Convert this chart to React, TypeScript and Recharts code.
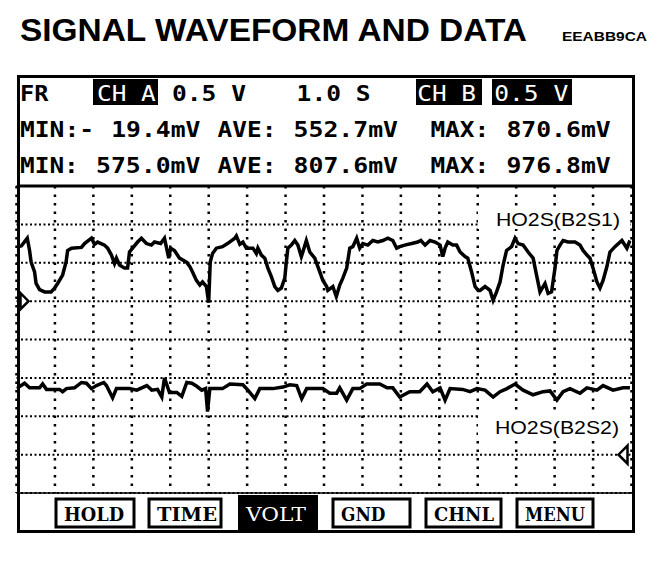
import React from 'react';
import { LineChart, Line, XAxis, YAxis, CartesianGrid, ReferenceDot } from 'recharts';

// Channel A trace: [time s, volts]
const chATrace: [number, number][] = [
  [0, .70], [.13, .72], [.28, .82], [.34, .66], [.38, .51], [.47, .38], [.51, .23], [.60, .15], [.73, .12], [.90, .12],
  [.99, .17], [1.07, .23], [1.20, .34], [1.29, .51], [1.33, .66], [1.43, .69], [1.69, .70], [1.77, .75], [1.95, .82], [2.03, .74],
  [2.11, .77], [2.29, .73], [2.37, .69], [2.47, .60], [2.55, .49], [2.60, .56], [2.68, .47], [2.81, .43], [2.89, .43], [2.94, .64],
  [3.02, .69], [3.15, .77], [3.25, .82], [3.38, .75], [3.51, .73], [3.59, .77], [3.75, .75], [3.85, .82], [3.96, .56], [4.01, .69],
  [4.11, .66], [4.24, .56], [4.42, .51], [4.51, .45], [4.58, .38], [4.68, .27], [4.77, .21], [4.84, .25], [4.94, .19], [5.00, -.02],
  [5.04, .51], [5.10, .62], [5.20, .69], [5.36, .71], [5.49, .75], [5.68, .82], [5.72, .85], [5.81, .74], [5.89, .77], [5.98, .69],
  [6.15, .69], [6.24, .62], [6.28, .69], [6.37, .60], [6.46, .56], [6.54, .43], [6.63, .32], [6.72, .19], [6.80, .14], [6.89, .17],
  [6.98, .30], [7.02, .51], [7.06, .69], [7.15, .73], [7.24, .79], [7.32, .73], [7.41, .58], [7.45, .64], [7.54, .79], [7.63, .64],
  [7.76, .56], [7.89, .38], [7.97, .27], [8.07, .19], [8.10, .14], [8.23, .19], [8.32, .06], [8.41, .21], [8.49, .30], [8.59, .43],
  [8.67, .69], [8.75, .71], [8.85, .82], [8.93, .69], [9.01, .75], [9.14, .73], [9.27, .79], [9.40, .77], [9.53, .79], [9.66, .82],
  [9.79, .79], [9.89, .69], [9.97, .71], [10.10, .73], [10.28, .75], [10.44, .77], [10.52, .79], [10.63, .73], [10.76, .79], [10.89, .77],
  [11.02, .73], [11.09, .58], [11.15, .69], [11.22, .77], [11.35, .73], [11.45, .73], [11.54, .64], [11.67, .58], [11.74, .56], [11.84, .38],
  [11.93, .19], [12.01, .14], [12.06, .14], [12.19, .19], [12.32, .14], [12.40, .01], [12.49, .12], [12.58, .25], [12.66, .47], [12.75, .66],
  [12.88, .71], [12.97, .82], [13.05, .75], [13.18, .73], [13.31, .64], [13.44, .56], [13.53, .34], [13.62, .12], [13.75, .23], [13.83, .10],
  [13.92, .12], [14.01, .43], [14.06, .66], [14.14, .73], [14.22, .79], [14.35, .77], [14.53, .77], [14.66, .73], [14.74, .66], [14.84, .60],
  [14.92, .56], [15.00, .43], [15.10, .25], [15.18, .17], [15.26, .27], [15.36, .45], [15.44, .64], [15.57, .71], [15.75, .79], [15.88, .69],
  [15.96, .79],
];

// Channel B trace: [time s, volts]
const chBTrace: [number, number][] = [
  [0, .86], [.21, .93], [.34, .87], [.60, .87], [.68, .92], [.78, .85], [1.12, .85], [1.20, .82], [1.30, .86], [1.51, .87],
  [1.69, .94], [1.82, .93], [1.95, .86], [2.08, .90], [2.27, .94], [2.34, .90], [2.50, .74], [2.60, .86], [2.94, .86], [3.13, .84],
  [3.39, .90], [3.52, .84], [3.67, .85], [3.78, .75], [3.85, 1.00], [3.98, .81], [4.17, .81], [4.30, .76], [4.43, .94], [4.56, .93],
  [4.69, .89], [4.82, .84], [4.92, .86], [4.97, .56], [5.03, .86], [5.36, .86], [5.55, .92], [5.89, .91], [6.02, .84], [6.20, .73],
  [6.33, .86], [6.67, .86], [6.93, .88], [7.11, .91], [7.29, .90], [7.42, .73], [7.55, .86], [7.97, .86], [8.15, .80], [8.33, .80],
  [8.41, .87], [8.59, .71], [8.75, .86], [8.93, .86], [9.11, .92], [9.45, .92], [9.64, .87], [9.79, .87], [9.97, .75], [10.23, .82],
  [10.49, .82], [10.68, .92], [10.83, .82], [11.02, .87], [11.15, .71], [11.28, .86], [11.61, .85], [11.80, .82], [11.98, .86], [12.19, .84],
  [12.40, .75], [12.58, .82], [12.76, .86], [12.97, .92], [13.18, .84], [13.44, .78], [13.70, .82], [13.88, .83], [14.06, .71], [14.22, .82],
  [14.40, .86], [14.66, .80], [14.84, .87], [15.10, .84], [15.26, .90], [15.52, .84], [15.78, .87], [15.96, .87],
];

const timeTicks = [1, 2, 3, 4, 5, 6, 7, 8, 9, 10, 11, 12, 13, 14, 15];
const chAVoltTicks = [-2, -1.5, -1, -0.5, 0, 0.5, 1];

const row2 = [
  { col: 0, text: 'MIN:-' }, { col: 6, text: '19.4mV' }, { col: 13, text: 'AVE:' },
  { col: 18, text: '552.7mV' }, { col: 27, text: 'MAX:' }, { col: 32, text: '870.6mV' },
];
const row3 = [
  { col: 0, text: 'MIN:' }, { col: 5, text: '575.0mV' }, { col: 13, text: 'AVE:' },
  { col: 18, text: '807.6mV' }, { col: 27, text: 'MAX:' }, { col: 32, text: '976.8mV' },
];
const buttons = [
  { label: 'HOLD', x: 56, w: 78, inv: false },
  { label: 'TIME', x: 149, w: 72, inv: false },
  { label: 'VOLT', x: 238, w: 80, inv: true },
  { label: 'GND', x: 333, w: 77, inv: false },
  { label: 'CHNL', x: 426, w: 75, inv: false },
  { label: 'MENU', x: 517, w: 76, inv: false },
];

const chAData = chATrace.map(([t, v]) => ({ t, v }));
const chBData = chBTrace.map(([t, v]) => ({ t, v }));

const PITCH = 15.2;
const COL0 = 20;
const MONO = '"DejaVu Sans Mono", monospace';

function Tok({ col, text, y, fill = '#000', bold = true, dx = 0 }: any) {
  return (
    <text x={COL0 + col * PITCH + dx} y={y} fontFamily={MONO} fontSize={21} fontWeight={bold ? 700 : 400}
      fill={fill} textLength={text.length * PITCH - 2} lengthAdjust="spacingAndGlyphs" style={{ whiteSpace: 'pre' }}>
      {text}
    </text>
  );
}

const RightTri = (p: any) => (
  <path d={`M${p.cx + 4},${p.cy - 8} L${p.cx + 12},${p.cy} L${p.cx + 4},${p.cy + 8} Z`} fill="#fff" stroke="#000" strokeWidth={2.5} />
);
const LeftTri = (p: any) => (
  <path d={`M${p.cx - 4},${p.cy - 9} L${p.cx - 13},${p.cy} L${p.cx - 4},${p.cy + 9} Z`} fill="#fff" stroke="#000" strokeWidth={2.5} />
);

export default function App() {
  return (
    <div style={{ position: 'absolute', left: 0, top: 0, width: 672, height: 562, background: '#fff' }}>
      <div style={{ position: 'absolute', left: 0, top: 0 }}>
        <LineChart width={672} height={562} margin={{ top: 186, right: 40.5, bottom: 69, left: 16.5 }}>
          <XAxis dataKey="t" type="number" domain={[0, 16]} ticks={timeTicks} hide allowDataOverflow />
          <YAxis yAxisId="a" type="number" domain={[-2.5, 1.5]} ticks={chAVoltTicks} hide allowDataOverflow />
          <YAxis yAxisId="b" type="number" domain={[-0.5, 3.5]} orientation="right" hide allowDataOverflow />
          <CartesianGrid yAxisId="a" vertical={false} stroke="#000" strokeWidth={2} strokeDasharray="2 2.5" />
          <CartesianGrid yAxisId="a" horizontal={false} stroke="#000" strokeWidth={2.5} strokeDasharray="2.5 6" />
          <Line yAxisId="a" data={chAData} dataKey="v" type="linear" stroke="#000" strokeWidth={3.5} dot={false} isAnimationActive={false} />
          <Line yAxisId="b" data={chBData} dataKey="v" type="linear" stroke="#000" strokeWidth={3.5} dot={false} isAnimationActive={false} />
          <ReferenceDot yAxisId="a" x={0} y={0} r={0} ifOverflow="visible" shape={RightTri} />
          <ReferenceDot yAxisId="b" x={16} y={0} r={0} ifOverflow="visible" shape={LeftTri} />
        </LineChart>
      </div>
      <svg width={672} height={562} style={{ position: 'absolute', left: 0, top: 0, pointerEvents: 'none' }}>
        <text x={20} y={41} fontFamily='"Liberation Sans", Arial, sans-serif' fontWeight={700} fontSize={32}
          textLength={507} lengthAdjust="spacingAndGlyphs">SIGNAL WAVEFORM AND DATA</text>
        <text x={562} y={41} fontFamily='"Liberation Sans", Arial, sans-serif' fontWeight={700} fontSize={12}
          textLength={85} lengthAdjust="spacingAndGlyphs">EEABB9CA</text>

        {/* frame */}
        <rect x={18.5} y={76.5} width={615} height={455} fill="none" stroke="#000" strokeWidth={3} />
        <line x1={17} y1={186} x2={635} y2={186} stroke="#000" strokeWidth={3} />
        <line x1={17} y1={493} x2={635} y2={493} stroke="#000" strokeWidth={1.5} />

        {/* header row 1 */}
        <Tok col={0} text="FR" y={101} />
        <rect x={93} y={79} width={65} height={26} fill="#000" />
        <Tok col={5} text="CH A" y={101} fill="#fff" bold={false} dx={1} />
        <Tok col={10} text="0.5 V" y={101} />
        <Tok col={18} text="1.0 S" y={101} dx={3} />
        <rect x={416} y={79} width={66} height={26} fill="#000" />
        <Tok col={26} text="CH B" y={101} fill="#fff" bold={false} dx={2} />
        <rect x={492} y={79} width={80} height={26} fill="#000" />
        <Tok col={31} text="0.5 V" y={101} fill="#fff" bold={false} dx={3} />

        {row2.map((t) => <Tok key={'r2' + t.col} col={t.col} text={t.text} y={137} />)}
        {row3.map((t) => <Tok key={'r3' + t.col} col={t.col} text={t.text} y={173} />)}

        {/* channel labels */}
        <rect x={478} y={206} width={152} height={23} fill="#fff" />
        <text x={496} y={226} fontFamily='"Liberation Sans", Arial, sans-serif' fontSize={19}
          textLength={124} lengthAdjust="spacingAndGlyphs">HO2S(B2S1)</text>
        <rect x={478} y={414} width={152} height={25} fill="#fff" />
        <text x={495} y={434} fontFamily='"Liberation Sans", Arial, sans-serif' fontSize={19}
          textLength={124} lengthAdjust="spacingAndGlyphs">HO2S(B2S2)</text>

        {/* bottom buttons */}
        {buttons.map((b) => (
          <g key={b.label}>
            {b.inv ? (
              <rect x={b.x} y={495} width={b.w} height={35} fill="#000" />
            ) : (
              <rect x={b.x} y={499} width={b.w} height={28} fill="#fff" stroke="#000" strokeWidth={3} />
            )}
            <text x={b.x + 8} y={521} fontFamily='"DejaVu Serif", serif' fontWeight={b.inv ? 400 : 700} fontSize={19}
              fill={b.inv ? '#fff' : '#000'} textLength={b.label.length * 15.5 - 2} lengthAdjust="spacingAndGlyphs">{b.label}</text>
          </g>
        ))}
      </svg>
    </div>
  );
}
